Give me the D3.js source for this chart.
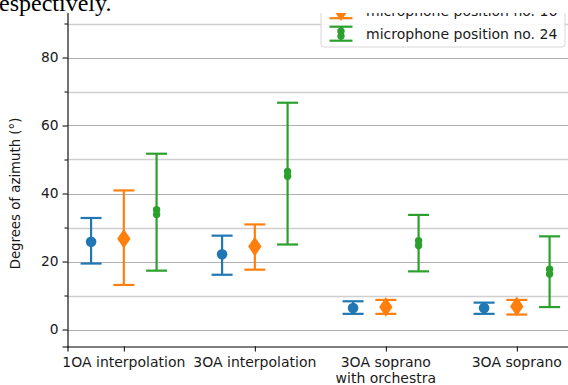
<!DOCTYPE html>
<html>
<head>
<meta charset="utf-8">
<script src="https://cdn.jsdelivr.net/npm/d3@7"></script>
<style>
  body { margin: 0; background: #fff; }
  svg text { font-family: "DejaVu Sans", sans-serif; }
</style>
</head>
<body>
<div id="chart"></div>
<script>
// Kategorien und Werte (Mittelwert, untere / obere Grenze)
const categories = ["1OA interpolation", "3OA interpolation", "3OA soprano\nwith orchestra", "3OA soprano"];
const seriesNames = ["microphone position no. 1", "microphone position no. 16", "microphone position no. 24"];
const colors = ["#1f77b4", "#ff7f0e", "#2ca02c"];
const offsets = [-0.25, 0, 0.25];

const meanPos1 = [25.8, 22.1, 6.3, 6.3];
const lowPos1 = [19.4, 16.1, 4.6, 4.6];
const highPos1 = [32.8, 27.6, 8.3, 7.9];

const meanPos16 = [26.7, 24.4, 6.6, 6.8];
const lowPos16 = [13.1, 17.6, 4.6, 4.4];
const highPos16 = [40.9, 30.9, 8.7, 8.7];

const meanPos24 = [34.5, 45.8, 25.4, 17.0];
const lowPos24 = [17.3, 25.0, 17.1, 6.6];
const highPos24 = [51.7, 66.7, 33.7, 27.4];

const yTicks = [0, 20, 40, 60, 80];
const yGrid = [0, 10, 20, 30, 40, 50, 60, 70, 80, 90];

const series = [
  { mean: meanPos1, low: lowPos1, high: highPos1 },
  { mean: meanPos16, low: lowPos16, high: highPos16 },
  { mean: meanPos24, low: lowPos24, high: highPos24 }
];

const W = 568, H = 385;
const svg = d3.select("#chart").append("svg").attr("width", W).attr("height", H);

// Achsen-Skalen
const x = d3.scaleLinear().domain([-0.43, 3.43]).range([67.5, 67.5 + 3.86 * 131]);
const y = d3.scaleLinear().domain([-5, 95]).range([346.5, 6.5]);

svg.append("clipPath").attr("id", "cut")
  .append("rect").attr("x", 0).attr("y", 13).attr("width", W).attr("height", H - 13);

const g = svg.append("g").attr("clip-path", "url(#cut)");

// Gitterlinien
g.selectAll("line.grid").data(yGrid).enter().append("line")
  .attr("x1", x(-0.43)).attr("x2", W)
  .attr("y1", d => Math.round(y(d)) + 0.5).attr("y2", d => Math.round(y(d)) + 0.5)
  .attr("stroke", d => d % 20 === 0 ? "#b0b0b0" : "#cfcfcf")
  .attr("stroke-width", d => d % 20 === 0 ? 1 : 1.4);

// Marker
function drawMarker(sel, s, cx, cy) {
  if (s === 0) {
    sel.append("circle").attr("cx", cx).attr("cy", cy).attr("r", 5.3).attr("fill", colors[0]);
  } else if (s === 1) {
    sel.append("path").attr("d", d3.symbol(d3.symbolDiamond, 100)())
      .attr("transform", `translate(${cx},${cy}) scale(1.25,1.05)`).attr("fill", colors[1]);
  } else {
    sel.append("circle").attr("cx", cx).attr("cy", cy - 2.4).attr("r", 3.7).attr("fill", colors[2]);
    sel.append("circle").attr("cx", cx).attr("cy", cy + 2.4).attr("r", 3.7).attr("fill", colors[2]);
  }
}

// Fehlerbalken
series.forEach((ser, s) => {
  categories.forEach((c, i) => {
    const cx = x(i + offsets[s]);
    const eg = g.append("g");
    eg.append("line").attr("x1", cx).attr("x2", cx)
      .attr("y1", y(ser.low[i])).attr("y2", y(ser.high[i]))
      .attr("stroke", colors[s]).attr("stroke-width", 2.2);
    [ser.low[i], ser.high[i]].forEach(v => {
      eg.append("line").attr("x1", cx - 10.5).attr("x2", cx + 10.5)
        .attr("y1", y(v)).attr("y2", y(v))
        .attr("stroke", colors[s]).attr("stroke-width", 2.2);
    });
    drawMarker(eg, s, cx, y(ser.mean[i]));
  });
});

// Achsen
const yAxis = g.append("g").attr("transform", `translate(${x(-0.43)},0)`)
  .call(d3.axisLeft(y).tickValues(yTicks).tickSize(5).tickPadding(4));
g.append("g").attr("transform", `translate(${x(-0.43)},0)`)
  .call(d3.axisLeft(y).tickValues([10, 30, 50, 70, 90]).tickSize(3).tickFormat(""))
  .select(".domain").remove();
const xAxis = g.append("g").attr("transform", `translate(0,${y(-5)})`)
  .call(d3.axisBottom(x).tickValues([0, 1, 2, 3]).tickSize(5).tickFormat(""));

[yAxis, xAxis].forEach(a => {
  a.select(".domain").attr("stroke", "#000").attr("stroke-width", 1.1);
  a.selectAll(".tick line").attr("stroke", "#000");
  a.selectAll("text").attr("font-size", 13.8).attr("fill", "#1a1a1a")
    .attr("font-family", "DejaVu Sans, sans-serif");
});

// Kategoriebeschriftung, zweizeilig
categories.forEach((c, i) => {
  const t = g.append("text").attr("x", x(i)).attr("y", 367)
    .attr("text-anchor", "middle").attr("font-size", 14).attr("fill", "#1a1a1a");
  c.split("\n").forEach((line, k) => {
    t.append("tspan").attr("x", x(i)).attr("dy", k === 0 ? 0 : 16).text(line);
  });
});

g.append("text")
  .attr("transform", `translate(20,${y(40)}) rotate(-90)`)
  .attr("text-anchor", "middle").attr("font-size", 13.3).attr("fill", "#1a1a1a")
  .text("Degrees of azimuth (°)");

// Legende
const leg = g.append("g");
leg.append("rect").attr("x", 321).attr("y", -60).attr("width", 244).attr("height", 107)
  .attr("rx", 3).attr("fill", "#fff").attr("fill-opacity", 0.85)
  .attr("stroke", "#d6d6d6");
seriesNames.forEach((name, s) => {
  const cy = 33.7 - (2 - s) * 22.5;
  const hx = 341;
  leg.append("line").attr("x1", hx).attr("x2", hx).attr("y1", cy - 7).attr("y2", cy + 7)
    .attr("stroke", colors[s]).attr("stroke-width", 2.2);
  [cy - 7, cy + 7].forEach(v => {
    leg.append("line").attr("x1", hx - 11.5).attr("x2", hx + 11.5).attr("y1", v).attr("y2", v)
      .attr("stroke", colors[s]).attr("stroke-width", 2.2);
  });
  drawMarker(leg, s, hx, cy);
  leg.append("text").attr("x", 366).attr("y", cy).attr("dy", "0.35em")
    .attr("font-size", 14).attr("fill", "#1a1a1a").text(name);
});

// Fliesstext der Seite oberhalb der Grafik
svg.append("text").attr("x", -1).attr("y", 11)
  .style("font-family", "'Liberation Serif', serif").attr("font-size", 24)
  .attr("fill", "#000").text("espectively.");
</script>
</body>
</html>
